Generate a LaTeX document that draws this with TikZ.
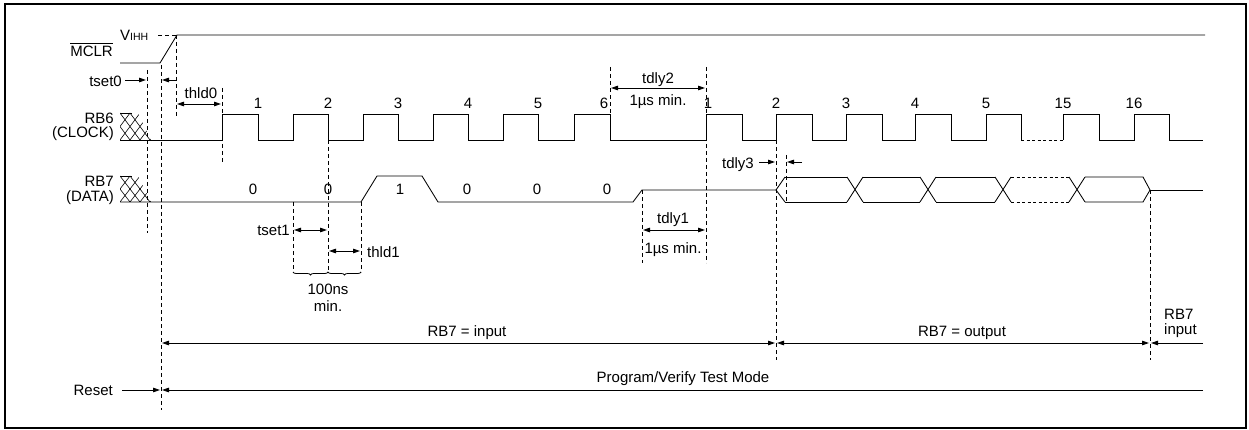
\documentclass[tikz,border=0pt]{standalone}
\usepackage{fontspec}
\setmainfont{Liberation Sans}
\usetikzlibrary{arrows.meta,decorations.pathreplacing}
\tikzset{
  sig/.style={line width=0.85pt, line join=miter},
  guide/.style={dash pattern=on 4pt off 3pt, line width=0.8pt},
  dimar/.style={line width=0.8pt, {Triangle[length=7pt,width=4.5pt]}-{Triangle[length=7pt,width=4.5pt]}},
  onear/.style={line width=0.8pt, -{Triangle[length=7pt,width=4.5pt]}},
  lbl/.style={font=\fontsize{15}{15}\selectfont, inner sep=0pt, text height=10.7pt, text depth=0pt},
  hatch/.style={line width=0.6pt}
}
\begin{document}
\begin{tikzpicture}[x=1pt,y=-1pt]
\useasboundingbox (0,0) rectangle (1249,430);
\draw[line width=2.2pt] (5,4) rectangle (1246,428);

% guide coordinates
\coordinate (g147t) at (147,70);  \coordinate (g147b) at (147,233);
\coordinate (g161t) at (161,65);  \coordinate (g161b) at (161,410);
\coordinate (g176t) at (176,35);  \coordinate (g176b) at (176,118);
\coordinate (g222t) at (222,88);  \coordinate (g222b) at (222,162);
\coordinate (g328t) at (328,140); \coordinate (g328b) at (328,272);
\coordinate (g293t) at (293,202); \coordinate (g293b) at (293,272);
\coordinate (g361t) at (361,202); \coordinate (g361b) at (361,272);
\coordinate (g610t) at (610,67);  \coordinate (g610b) at (610,140);
\coordinate (g706t) at (706,67);  \coordinate (g706b) at (706,263);
\coordinate (g642t) at (642,190); \coordinate (g642b) at (642,263);
\coordinate (g776t) at (776,140); \coordinate (g776b) at (776,360);
\coordinate (g786t) at (786,155); \coordinate (g786b) at (786,202);
\coordinate (g1150t) at (1150,190); \coordinate (g1150b) at (1150,360);
\foreach \n in {147,161,176,222,328,293,361,610,706,642,776,786,1150}
  \draw[guide] (g\n t) -- (g\n b);

% MCLR
\node[lbl, anchor=east] (mclr) at (113,51) {MCLR};
\draw[line width=0.8pt] ([yshift=2.5pt]mclr.north west) -- ([yshift=2.5pt]mclr.north east);
\node[lbl, anchor=west] (vihh) at (120,35) {V{\fontsize{10.5}{10.5}\selectfont IHH}};
\coordinate (vdash) at (158,35);
\draw[guide] (vdash) -- (g176t);
\draw[sig] (120,63) -- (160,63) -- (177,35) -- (1205,35);

% hatch blocks
\foreach \yt/\yb in {113/140, 176/202}{
  \begin{scope}
    \clip (120,\yt) -- (138,\yt) -- (151,\yb) -- (120,\yb) -- cycle;
    \foreach \k in {-3,...,4}{
      \draw[hatch] (120+10*\k,\yt) -- (140+10*\k,\yb);
      \draw[hatch] (140+10*\k,\yt) -- (120+10*\k,\yb);
    }
  \end{scope}
  \draw[hatch] (120,\yt) -- (132,\yt);
}

% RB6 clock
\node[lbl, anchor=east] (rb6a) at (114,118) {RB6};
\node[lbl, anchor=east] (rb6b) at (114,132) {(CLOCK)};
\draw[sig] (120,140) -- (222,140) -- (222,114) -- (258,114) -- (258,140) -- (293,140) -- (293,114) -- (328,114) -- (328,140)
  -- (363,140) -- (363,114) -- (398,114) -- (398,140) -- (433,140) -- (433,114) -- (468,114) -- (468,140)
  -- (503,140) -- (503,114) -- (538,114) -- (538,140) -- (574,140) -- (574,114) -- (610,114) -- (610,140)
  -- (706,140) -- (706,114) -- (742,114) -- (742,140) -- (776,140) -- (776,114) -- (812,114) -- (812,140)
  -- (846,140) -- (846,114) -- (882,114) -- (882,140) -- (915,140) -- (915,114) -- (951,114) -- (951,140)
  -- (986,140) -- (986,114) -- (1021,114) -- (1021,140);
\draw[line width=0.85pt, dash pattern=on 3pt off 2.5pt] (1021,140) -- (1063,140);
\draw[sig] (1063,140) -- (1063,114) -- (1099,114) -- (1099,140) -- (1134,140) -- (1134,114) -- (1169,114) -- (1169,140) -- (1203,140);
\foreach \x/\t [count=\i] in {258/1,328/2,398/3,468/4,538/5,604/6,708/1,776/2,846/3,915/4,986/5,1063/15,1134/16}
  \node[lbl] (ck\i) at (\x,103) {\t};

% RB7 data
\node[lbl, anchor=east] (rb7a) at (114,181) {RB7};
\node[lbl, anchor=east] (rb7b) at (114,196) {(DATA)};
\draw[sig] (120,202) -- (361,202) -- (377,176) -- (422,176) -- (438,202) -- (633,202) -- (642,190) -- (776,190);
\draw[sig] (785,177) -- (776,190) -- (785,202);
\foreach \c in {855,928,1003,1077}{
  \draw[sig] (\c-8,177) -- (\c+8,202);
  \draw[sig] (\c-8,202) -- (\c+8,177);
}
\foreach \a/\b in {785/847, 863/920, 936/995}{
  \draw[sig] (\a,177) -- (\b,177);
  \draw[sig] (\a,202) -- (\b,202);
}
\draw[line width=0.85pt, dash pattern=on 3pt off 2.5pt] (1011,177) -- (1069,177) (1011,202) -- (1069,202);
\draw[sig] (1085,177) -- (1143,177) -- (1150,190) -- (1143,202) -- (1085,202);
\draw[sig] (1150,190) -- (1203,190);
\foreach \x/\t [count=\i] in {253/0,328/0,400/1,467/0,537/0,607/0}
  \node[lbl] (dt\i) at (\x,189) {\t};

% tset0 / thld0
\node[lbl, anchor=east] (tset0) at (122,81) {tset0};
\coordinate (ts0a) at (125,80); \coordinate (ts0b) at (146,80);
\coordinate (ts0c) at (176,80); \coordinate (ts0d) at (162,80);
\draw[onear] (ts0a) -- (ts0b);
\draw[onear] (ts0c) -- (ts0d);
\node[lbl] (thld0) at (201,93) {thld0};
\draw[dimar] (177,104) -- (221,104);

% tset1 / thld1 / 100ns
\node[lbl, anchor=east] (tset1) at (290,230) {tset1};
\draw[dimar] (294,230) -- (327,230);
\node[lbl, anchor=west] (thld1) at (367,252) {thld1};
\draw[dimar] (329,251) -- (360,251);
\draw[line width=0.8pt, decorate, decoration={brace, amplitude=3pt}] (328,272) -- (293,272);
\draw[line width=0.8pt, decorate, decoration={brace, amplitude=3pt}] (361,272) -- (328,272);
\node[lbl] (ns100) at (328,289) {100ns};
\node[lbl] (nsmin) at (328,306) {min.};

% tdly2
\node[lbl] (tdly2) at (658,78) {tdly2};
\draw[dimar] (611,88) -- (705,88);
\node[lbl] (tdly2m) at (658,100) {1µs min.};

% tdly1
\node[lbl] (tdly1) at (673,218) {tdly1};
\draw[dimar] (643,230) -- (705,230);
\node[lbl] (tdly1m) at (673,248) {1µs min.};

% tdly3
\node[lbl, anchor=east] (tdly3) at (754,163) {tdly3};
\draw[onear] (759,162) -- (775,162);
\draw[onear] (802,162) -- (787,162);

% bottom ranges
\draw[dimar] (162,343) -- (775,343);
\node[lbl] (rin) at (467,331) {RB7 = input};
\draw[dimar] (777,343) -- (1149,343);
\node[lbl] (rout) at (962,331) {RB7 = output};
\draw[onear] (1203,343) -- (1151,343);
\node[lbl, anchor=west] (rin2a) at (1164,314) {RB7};
\node[lbl, anchor=west] (rin2b) at (1164,329) {input};

\node[lbl, anchor=east] (reset) at (113,390) {Reset};
\draw[onear] (122,390) -- (160,390);
\draw[onear] (1203,390) -- (162,390);
\node[lbl] (pvt) at (683,377) {Program/Verify Test Mode};
\end{tikzpicture}
\end{document}
